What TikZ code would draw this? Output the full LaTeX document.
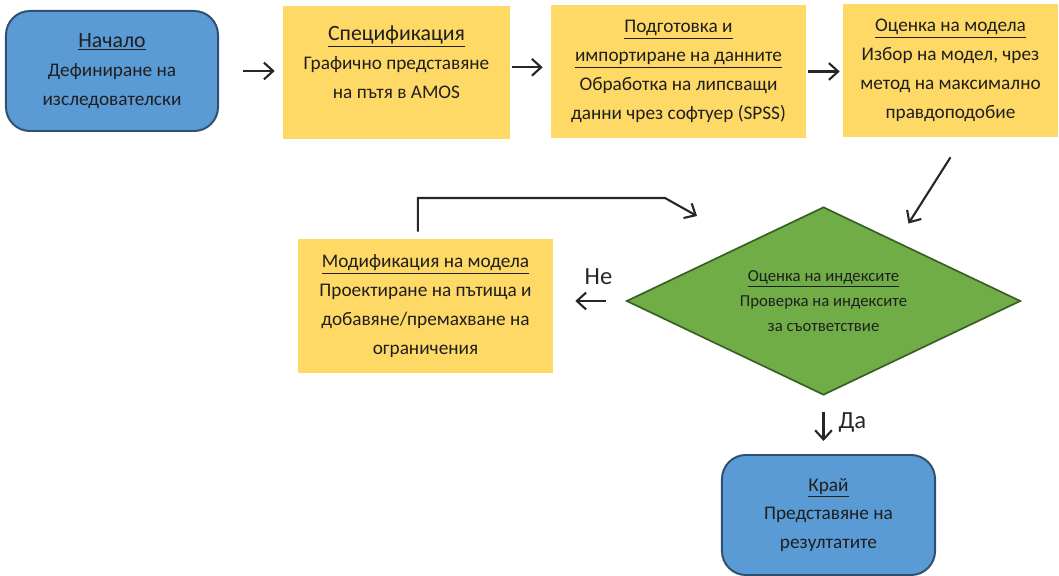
\documentclass[tikz,border=0pt]{standalone}
\usepackage{fontspec}
\setmainfont{Carlito}
\usepackage{tikz}
\usetikzlibrary{shapes.geometric, arrows.meta, positioning}

\definecolor{termfill}{HTML}{5B9BD5}
\definecolor{termdraw}{HTML}{2F4F70}
\definecolor{procfill}{HTML}{FFD966}
\definecolor{decfill}{HTML}{70AD47}
\definecolor{decdraw}{HTML}{3A5F24}

\begin{document}
\begin{tikzpicture}[
    x=0.025cm, y=-0.025cm,
    term/.style={
      draw=termdraw, line width=1.4pt, fill=termfill, rounded corners=0.6cm,
      align=center, minimum width=5.3cm, minimum height=3.0cm,
      font=\fontsize{13.7}{20.5}\selectfont, text=black!88, inner sep=2pt
    },
    proc/.style={
      fill=procfill, align=center, minimum height=3.325cm,
      font=\fontsize{13.7}{20.5}\selectfont, text=black!88, inner sep=2pt
    },
    dec/.style={
      diamond, aspect=2.09, draw=decdraw, line width=1.2pt, fill=decfill, align=center,
      minimum width=9.85cm, minimum height=4.7cm, inner sep=0pt,
      font=\fontsize{11.9}{17.8}\selectfont, text=black!88
    },
    fl/.style={-{Straight Barb[length=2.3mm, width=4.2mm]}, line width=1.5pt, draw=black!85},
    ans/.style={font=\fontsize{17.5}{20}\selectfont, text=black!85, inner sep=0pt}
  ]
    \useasboundingbox (0,0) rectangle (1059,576);

    % --- верхний ряд ---
    \node[term] (start) at (112, 71)
      {{\fontsize{15.5}{20.5}\selectfont\underline{Начало}}\\Дефиниране на\\изследователски};
    \node[proc, minimum width=5.675cm, text depth=15pt] (spec) at (396.5, 72.5)
      {{\fontsize{15.5}{20.5}\selectfont\underline{Спецификация}}\\Графично представяне\\на пътя в AMOS};
    \node[proc, minimum width=6.375cm] (data) at (678.5, 71.5)
      {\underline{Подготовка и}\\\underline{импортиране на данните}\\Обработка на липсващи\\данни чрез софтуер (SPSS)};
    \node[proc, minimum width=5.375cm] (model) at (950.5, 70.5)
      {\underline{Оценка на модела}\\Избор на модел, чрез\\метод на максимално\\правдоподобие};

    \draw[fl, shorten <=0.6cm, shorten >=0.2cm] (start.east) -- (start.east -| spec.west);
    \draw[fl, shorten <=0.03cm, shorten >=0.2cm]
      ([yshift=0.13cm]spec.east) -- ([yshift=0.13cm]spec.east -| data.west);
    \draw[fl, shorten <=0.05cm, shorten >=0.075cm] (data.east) -- (data.east -| model.west);

    % --- проверка ---
    \node[dec] (dia) at (823.5, 301)
      {\underline{Оценка на индексите}\\Проверка на индексите\\за съответствие};
    \node[proc, minimum width=6.375cm, minimum height=3.35cm] (modif) at (425.5, 306)
      {\underline{Модификация на модела}\\Проектиране на пътища и\\добавяне/премахване на\\ограничения};
    \node[term, minimum width=5.325cm] (end) at (828.5, 515)
      {\underline{Край}\\Представяне на\\резултатите};

    \draw[fl] ([yshift=-0.5cm]model.south) -- ([xshift=-0.35cm, yshift=0.75cm]dia.north east);
    \draw[fl, shorten <=0.5cm, shorten >=0.55cm] (dia.west) -- (dia.west -| modif.east)
      node[ans, pos=0.375, above=0.375cm] {Не};
    \draw[fl, shorten <=0.4cm, shorten >=0.325cm] (dia.south) -- (dia.south |- end.north)
      node[ans, pos=0.45, right=0.35cm] {Да};

    \coordinate (lpk) at (665, 198);
    \coordinate (lpt) at (697, 216);
    \draw[fl] ([xshift=-0.19cm, yshift=0.175cm]modif.north) |- (lpk) -- (lpt);
  \end{tikzpicture}
\end{document}
